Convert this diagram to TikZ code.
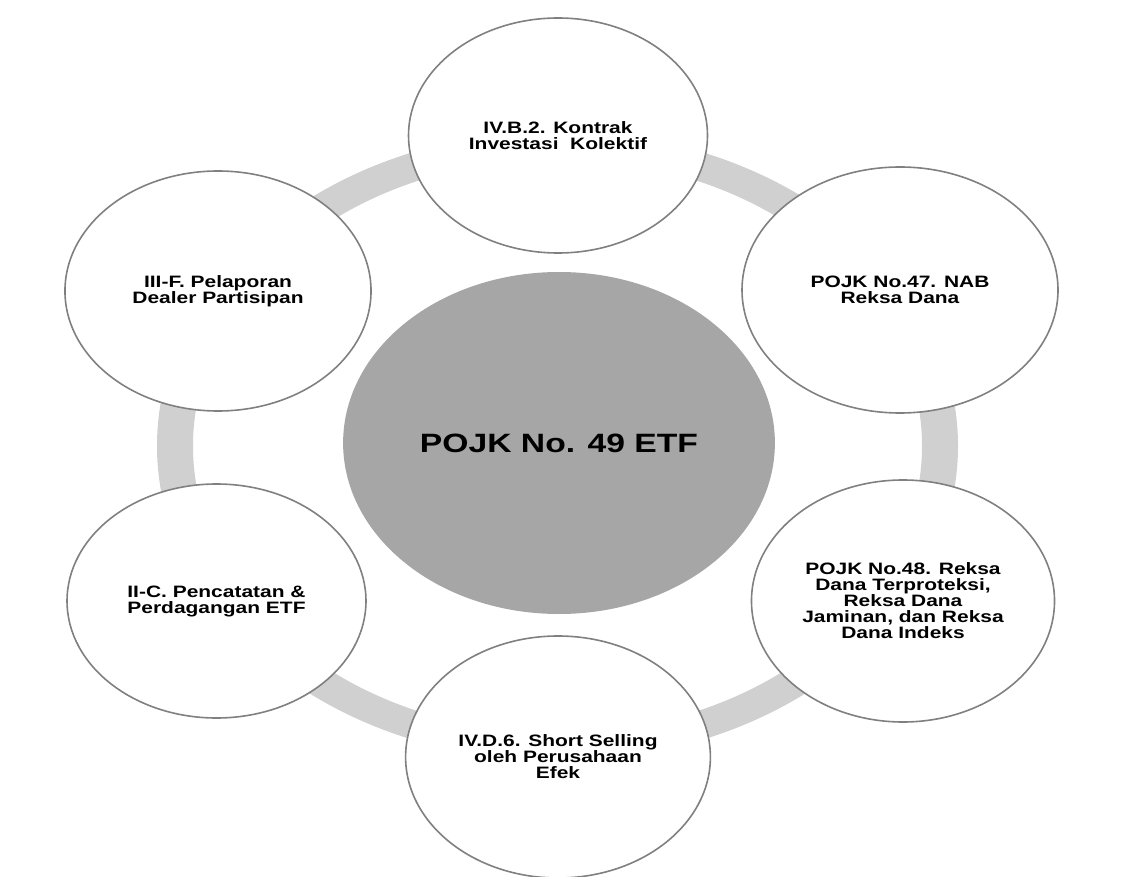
\documentclass[tikz,border=0pt]{standalone}
\usepackage{fontspec}
\setmainfont{Liberation Sans}
\usetikzlibrary{shapes.geometric}
\definecolor{ringgray}{RGB}{208,208,208}
\definecolor{hubgray}{RGB}{166,166,166}
\definecolor{edgegray}{RGB}{128,128,128}
\tikzset{
  sat/.style={ellipse, draw=edgegray, line width=1.6pt, fill=white,
    xscale=1.27, transform shape, inner sep=0pt, align=center,
    font=\fontsize{16.5}{16}\selectfont\bfseries},
  hub/.style={ellipse, fill=hubgray, xscale=1.27, transform shape,
    inner sep=0pt, minimum width=340pt, minimum height=342pt,
    font=\fontsize{26.5}{30}\selectfont\bfseries},
  ringband/.style={fill=ringgray, even odd rule}
}
\begin{document}
\begin{tikzpicture}[x=1pt, y=-1pt]
\useasboundingbox (0,0) rectangle (1122,877);
% ring
\fill[ringband] (557.5,446) ellipse [x radius=400.5, y radius=315]
                (557.5,446) ellipse [x radius=364.5, y radius=287];
% hub
\node[hub] (hub) at (559,443) {POJK No. 49 ETF};
% satellites
\node[sat, minimum width=235.4pt, minimum height=235pt] (top) at (558,135.5)
  {IV.B.2. Kontrak\\Investasi\ \ Kolektif};
\node[sat, minimum width=248.8pt, minimum height=246pt] (ur) at (900,290)
  {POJK No.47. NAB\\Reksa Dana};
\node[sat, minimum width=238.6pt, minimum height=242pt] (lr) at (903,601)
  {POJK No.48. Reksa\\Dana Terproteksi,\\Reksa Dana\\Jaminan, dan Reksa\\Dana Indeks};
\node[sat, minimum width=240pt, minimum height=242pt] (bot) at (558,757)
  {IV.D.6. Short Selling\\oleh Perusahaan\\Efek};
\node[sat, minimum width=235.4pt, minimum height=234pt] (ll) at (216.5,601)
  {II-C. Pencatatan \&\\Perdagangan ETF};
\node[sat, minimum width=241pt, minimum height=240pt] (ul) at (218,291)
  {III-F. Pelaporan\\Dealer Partisipan};
\end{tikzpicture}
\end{document}
